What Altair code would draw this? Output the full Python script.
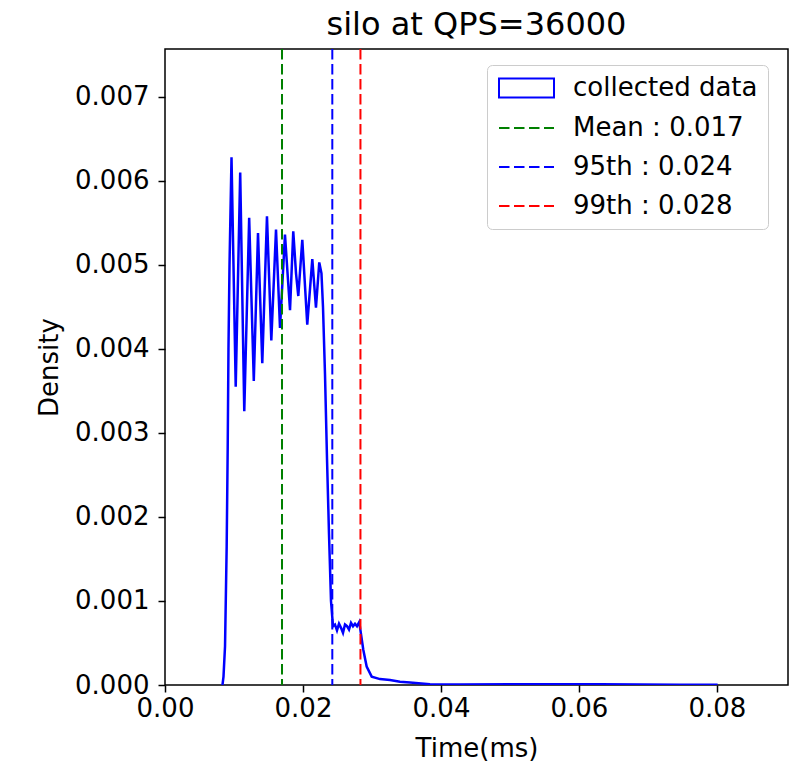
import altair as alt
import pandas as pd

# ---- data ----
hist_time = [0.00833, 0.00848, 0.00870, 0.00894, 0.00909, 0.00920, 0.00935, 0.00964,
             0.01025, 0.01090, 0.01149, 0.01220, 0.01287, 0.01348, 0.01410, 0.01478,
             0.01541, 0.01609, 0.01667, 0.01739, 0.01812, 0.01859, 0.01899, 0.01932,
             0.01990, 0.02062, 0.02135, 0.02188, 0.02236, 0.02268, 0.02290, 0.02319,
             0.02348, 0.02377, 0.02406, 0.02435, 0.02464, 0.02493, 0.02522, 0.02551,
             0.02580, 0.02609, 0.02638, 0.02667, 0.02696, 0.02725, 0.02754, 0.02783,
             0.02816, 0.02833, 0.02874, 0.02923, 0.02996, 0.03116, 0.03261, 0.03406,
             0.03551, 0.03841, 0.04275, 0.05000, 0.05725, 0.06304, 0.06884, 0.07464,
             0.08000, 0.08007]
hist_density = [0.0, 0.0001, 0.00046, 0.00165, 0.00284, 0.0040, 0.0050, 0.00628,
                0.00355, 0.0061, 0.00326, 0.00556, 0.00362, 0.00538, 0.00383, 0.00558,
                0.0041, 0.00542, 0.00425, 0.00536, 0.00446, 0.0054, 0.0049, 0.00463,
                0.0053, 0.00429, 0.00507, 0.00449, 0.00503, 0.0049, 0.0045, 0.0037,
                0.0027, 0.0018, 0.0010, 0.0007, 0.00072, 0.00065, 0.00073, 0.00068,
                0.00062, 0.00072, 0.0007, 0.00066, 0.00074, 0.0007, 0.00073, 0.0007,
                0.00075, 0.00065, 0.00042, 0.00022, 0.0001, 0.00007, 0.00006, 0.00004,
                0.00003, 0.00001, 0.000005, 0.00001, 0.00001, 0.00001, 0.000005, 0.000003,
                0.000002, 0.0]

stat_values = [0.01696, 0.02425, 0.02833]
stat_colors = ["#008000", "#0000ff", "#ff0000"]

legend_labels = ["collected data", "Mean : 0.017", "95th : 0.024", "99th : 0.028"]
legend_colors = ["#0000ff", "#008000", "#0000ff", "#ff0000"]
rect_path = "M-1.1,-0.95H4.4V0.95H-1.1Z"
dash_path = "M-1.1,0H-0.05M0.4,0H1.45M1.9,0H2.95M3.4,0H4.4"
legend_shapes = [rect_path, dash_path, dash_path, dash_path]

x_ticks = [0.0, 0.02, 0.04, 0.06, 0.08]
y_ticks = [0.0, 0.001, 0.002, 0.003, 0.004, 0.005, 0.006, 0.007]

hist_df = pd.DataFrame({"t": hist_time, "d": hist_density})
rule_df = pd.DataFrame({"t": stat_values, "c": stat_colors})
leg_df = pd.DataFrame({"series": legend_labels})

FONT = "DejaVu Sans"

x_scale = alt.Scale(domain=[0, 0.0903], nice=False, zero=False)
y_scale = alt.Scale(domain=[0, 0.00757], nice=False, zero=False)

x_axis = alt.Axis(values=x_ticks, format=".2f", title="Time(ms)", labelPadding=3,
                  labelFlush=False, titleBaseline="alphabetic", titleY=71,
                  titleAnchor="middle", grid=False)
y_axis = alt.Axis(values=y_ticks, format=".3f", title="Density", labelPadding=9,
                  labelFlush=False, titleX=-108, titleY=318, titleAngle=-90,
                  titleAlign="center", titleBaseline="alphabetic", grid=False)

hist = alt.Chart(hist_df).mark_line(color="#0000ff", strokeWidth=2.5, clip=True).encode(
    x=alt.X("t:Q", scale=x_scale, axis=x_axis),
    y=alt.Y("d:Q", scale=y_scale, axis=y_axis),
)

rules = alt.Chart(rule_df).mark_rule(strokeWidth=2, strokeDash=[10.5, 4.5]).encode(
    x=alt.X("t:Q", scale=x_scale, axis=x_axis),
    color=alt.Color("c:N", scale=None),
)

leg = alt.Legend(orient="none", legendX=322, legendY=16, title=None,
                 labelFont=FONT, labelFontSize=26, labelColor="black", labelLimit=500,
                 symbolSize=400, symbolStrokeWidth=2, symbolOpacity=1,
                 symbolFillColor="transparent",
                 labelOffset=50, rowPadding=13, padding=10,
                 strokeColor="#cccccc", fillColor="white", cornerRadius=5)

legend_layer = alt.Chart(leg_df).mark_point(opacity=0, filled=False).encode(
    color=alt.Color("series:N", scale=alt.Scale(domain=legend_labels, range=legend_colors),
                    legend=leg, sort=legend_labels),
    shape=alt.Shape("series:N", scale=alt.Scale(domain=legend_labels, range=legend_shapes),
                    legend=leg, sort=legend_labels),
)

chart = alt.layer(hist, rules, legend_layer).properties(
    width=623, height=636,
    padding={"left": 165, "top": 49, "right": 7, "bottom": 93},
    autosize=alt.AutoSizeParams(type="none"),
    background="white",
    title=alt.TitleParams("silo at QPS=36000", font=FONT, fontSize=32, fontWeight="normal",
                          anchor="middle", offset=6, color="black"),
).configure_view(stroke="black", strokeWidth=1.5).configure_axis(
    labelFont=FONT, labelFontSize=26, labelColor="black",
    titleFont=FONT, titleFontSize=26, titleColor="black", titleFontWeight="normal",
    tickColor="black", tickWidth=1.5, tickSize=7, domain=False, grid=False,
)

chart.save("out.html", embed_options={"renderer": "svg", "actions": False})
